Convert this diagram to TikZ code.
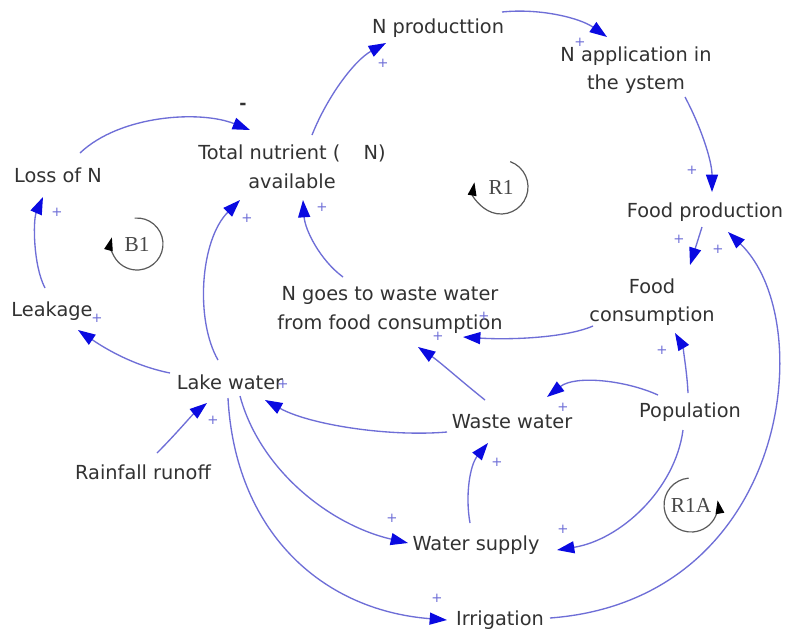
\documentclass[tikz,border=0pt]{standalone}
\usepackage{fontspec}
\setmainfont{DejaVu Sans}
\newfontfamily\loopfont{Liberation Serif}
\usetikzlibrary{arrows.meta}
\definecolor{edgecol}{RGB}{110,110,215}
\definecolor{tipcol}{RGB}{10,10,225}
\definecolor{txtcol}{RGB}{50,50,50}
\definecolor{loopcol}{RGB}{90,90,90}
\begin{document}
\begin{tikzpicture}[x=0.75pt,y=-0.75pt,
  var/.style={text=txtcol, font=\fontsize{14.5}{21.5}\selectfont, align=center, inner sep=1pt},
  edge/.style={draw=edgecol, line width=1pt, -{Triangle[length=13pt,width=9pt,color=tipcol]}},
  pol/.style={text=edgecol, font=\fontsize{10}{10}\selectfont, inner sep=0pt},
  loopc/.style={draw=loopcol, line width=0.9pt, -{Triangle[length=10pt,width=6.5pt,color=black]}},
  looplab/.style={font=\loopfont\fontsize{16}{16}\selectfont, text=loopcol!80!black, inner sep=0pt}]
\useasboundingbox[fill=white] (0,0) rectangle (787,637);

% variables
\node[var] (nprod) at (438,28) {N producttion};
\node[var] (napp) at (636,70) {N application in\\the ystem};
\node[var] (total) at (292,167) {Total nutrient (\hspace{1.2em}N)\\available};
\node[var] (loss) at (58,175) {Loss of N};
\node[var] (foodprod) at (705,212) {Food production};
\node[var] (foodcons) at (652,302) {Food\\consumption};
\node[var] (ngoes) at (390,310) {N goes to waste water\\from food consumption};
\node[var] (leak) at (52,311) {Leakage};
\node[var] (lake) at (230,382) {Lake water};
\node[var] (waste) at (512,422) {Waste water};
\node[var] (pop) at (690,412) {Population};
\node[var] (rain) at (143,472) {Rainfall runoff};
\node[var] (wsupply) at (476,545) {Water supply};
\node[var] (irr) at (500,620) {Irrigation};

% loop markers
\node[looplab] (b1) at (137,244) {B1};
\draw[loopc] ([shift={(-95:26)}]b1.center) arc[start angle=-95, end angle=195, radius=26];
\node[looplab] (r1) at (501,187) {R1};
\draw[loopc] ([shift={(-70:27)}]r1.center) arc[start angle=-70, end angle=190, radius=27];
\node[looplab] (r1a) at (691,505) {R1A};
\draw[loopc] ([shift={(-95:27)}]r1a.center) arc[start angle=-95, end angle=-370, radius=27];

% connectors
\draw[edge] ([shift={(20,-32)}]total.center) .. controls (328,95) and (355,60) .. ([shift={(-52,15)}]nprod.center);
\draw[edge] ([shift={(64,-16)}]nprod.center) .. controls (540,8) and (580,18) .. ([shift={(-29,-33)}]napp.center);
\draw[edge] ([shift={(49,27)}]napp.center) .. controls (700,125) and (712,160) .. ([shift={(7,-20)}]foodprod.center);
\draw[edge] ([shift={(-3,15)}]foodprod.center) -- ([shift={(38,-37)}]foodcons.center);
\draw[edge] ([shift={(50,-2)}]irr.center) .. controls (790,600) and (820,320) .. ([shift={(23,20)}]foodprod.center);
\draw[edge] ([shift={(-59,24)}]foodcons.center) .. controls (565,338) and (510,340) .. ([shift={(73,27)}]ngoes.center);
\draw[edge] ([shift={(-27,-22)}]waste.center) .. controls (460,380) and (440,362) .. ([shift={(28,37)}]ngoes.center);
\draw[edge] ([shift={(-2,-19)}]pop.center) .. controls (687,370) and (682,345) .. ([shift={(23,31)}]foodcons.center);
\draw[edge] ([shift={(-32,-17)}]pop.center) .. controls (625,380) and (575,375) .. ([shift={(35,-25)}]waste.center);
\draw[edge] ([shift={(-65,10)}]waste.center) .. controls (390,437) and (310,425) .. ([shift={(35,18)}]lake.center);
\draw[edge] ([shift={(14,-19)}]rain.center) .. controls (175,435) and (192,415) .. ([shift={(-23,21)}]lake.center);
\draw[edge] ([shift={(-60,-9)}]lake.center) .. controls (130,365) and (100,345) .. ([shift={(26,19)}]leak.center);
\draw[edge] ([shift={(-7,-23)}]leak.center) .. controls (33,265) and (33,220) .. ([shift={(-15,22)}]loss.center);
\draw[edge] ([shift={(22,-22)}]loss.center) .. controls (120,115) and (200,110) .. ([shift={(-42,-37)}]total.center);
\draw[edge] ([shift={(-12,-22)}]lake.center) .. controls (195,320) and (200,240) .. ([shift={(-52,33)}]total.center);
\draw[edge] ([shift={(-47,-33)}]ngoes.center) .. controls (320,260) and (305,230) .. ([shift={(11,33)}]total.center);
\draw[edge] ([shift={(10,14)}]lake.center) .. controls (260,470) and (330,525) .. ([shift={(-68,-2)}]wsupply.center);
\draw[edge] ([shift={(-2,16)}]lake.center) .. controls (235,530) and (320,610) .. ([shift={(-53,0)}]irr.center);
\draw[edge] ([shift={(-6,-22)}]wsupply.center) .. controls (465,495) and (470,465) .. ([shift={(-24,21)}]waste.center);
\draw[edge] ([shift={(-7,18)}]pop.center) .. controls (675,490) and (620,540) .. ([shift={(81,5)}]wsupply.center);

% polarities
\node[pol] (p1) at (383,63) {+};
\node[pol] (p2) at (580,42) {+};
\node[pol] (p3) at (692,170) {+};
\node[pol] (p4) at (679,239) {+};
\node[pol] (p5) at (718,249) {+};
\node[pol] (p6) at (484,316) {+};
\node[pol] (p7) at (438,336) {+};
\node[pol] (p8) at (662,350) {+};
\node[pol] (p9) at (563,407) {+};
\node[pol] (p10) at (283,384) {+};
\node[pol] (p11) at (213,420) {+};
\node[pol] (p12) at (97,318) {+};
\node[pol] (p13) at (57,212) {+};
\node[pol,text=txtcol,font=\fontsize{13}{13}\selectfont\bfseries] (m14) at (243,106) {-};
\node[pol] (p15) at (247,218) {+};
\node[pol] (p16) at (322,207) {+};
\node[pol] (p17) at (392,518) {+};
\node[pol] (p18) at (437,598) {+};
\node[pol] (p19) at (497,462) {+};
\node[pol] (p20) at (563,529) {+};
\end{tikzpicture}
\end{document}
